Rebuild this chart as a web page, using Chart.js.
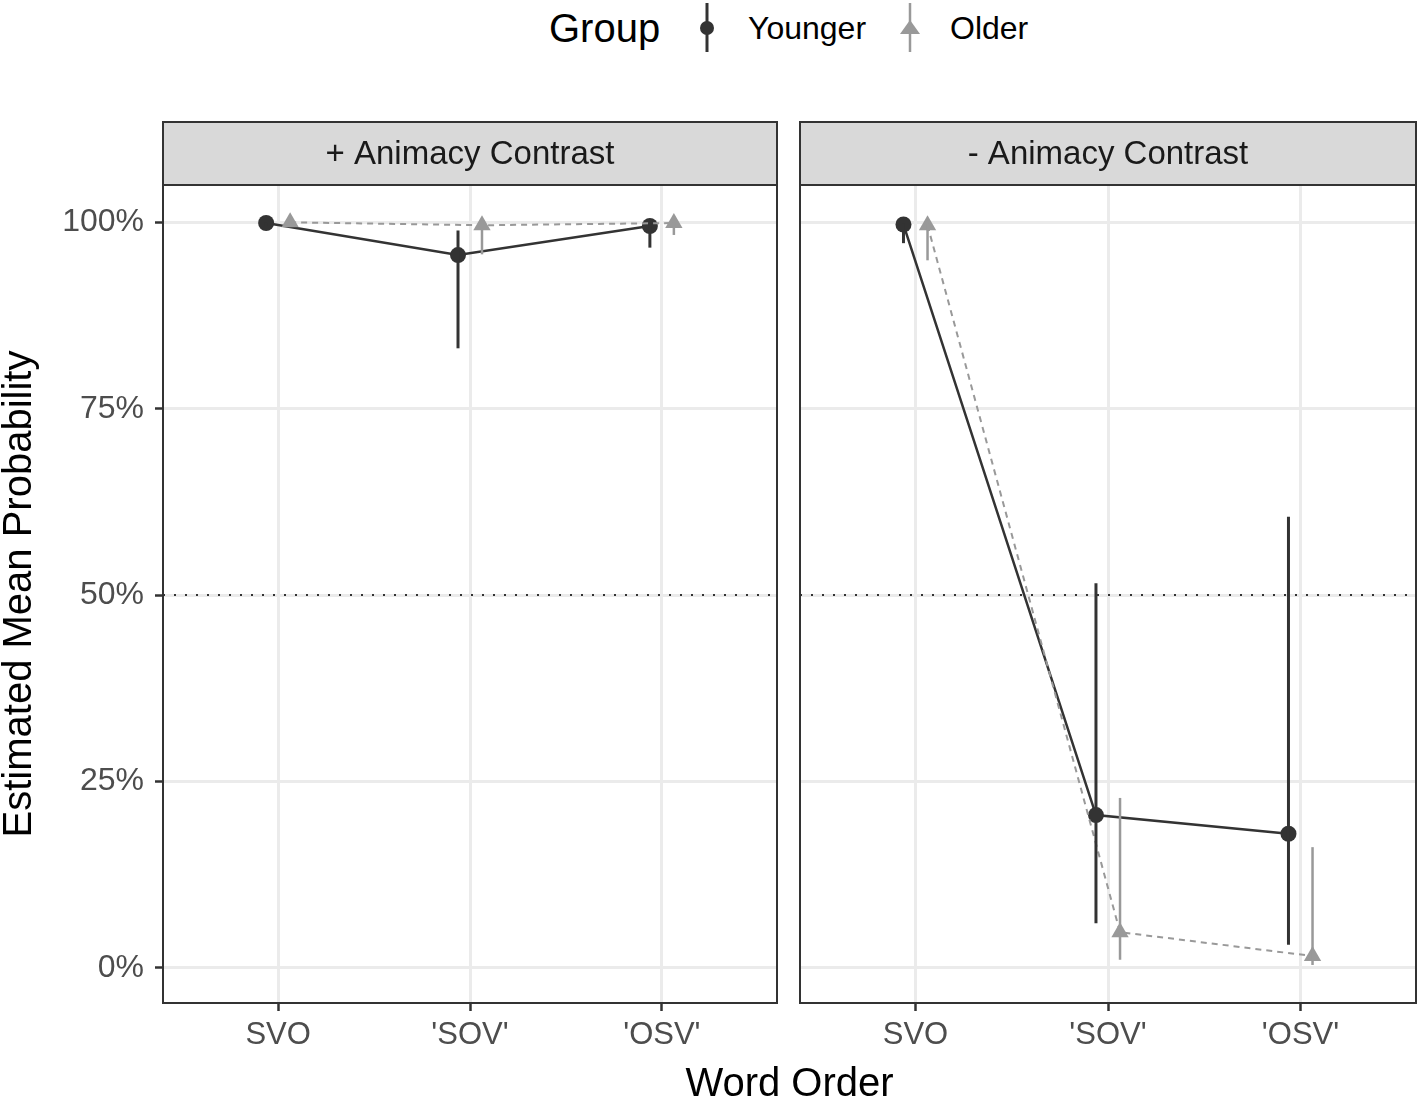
<!DOCTYPE html>
<html>
<head>
<meta charset="utf-8">
<script src="https://cdn.jsdelivr.net/npm/chart.js@4.4.0/dist/chart.umd.min.js"></script>
<style>
  html, body { margin: 0; padding: 0; background: #fff; }
  body { width: 1418px; height: 1099px; position: relative; overflow: hidden;
         font-family: 'Liberation Sans', Arial, Helvetica, sans-serif; }
  canvas.panel { position: absolute; left: 0; top: 0; }
  .lg { position: absolute; top: 0; height: 56px; line-height: 56px; color: #000; white-space: nowrap; }
  .lg-title { left: 549px; font-size: 40px; }
  .lg-text { font-size: 32px; }
  .lg-key { position: absolute; top: 0; }
  #xTitle { position: absolute; left: 163px; width: 1253px; top: 1058px; height: 48px; line-height: 48px;
            text-align: center; font-size: 40px; color: #000; }
</style>
</head>
<body>
<div class="lg lg-title">Group</div>
<svg class="lg-key" style="left:692px" width="30" height="56">
  <line x1="15" y1="3" x2="15" y2="52" stroke="#333333" stroke-width="3"/>
  <circle cx="15" cy="28" r="7" fill="#333333"/>
</svg>
<div class="lg lg-text" style="left:748px">Younger</div>
<svg class="lg-key" style="left:895px" width="30" height="56">
  <line x1="15" y1="3" x2="15" y2="52" stroke="#999999" stroke-width="2.5"/>
  <polygon points="15,20 25,34 5,34" fill="#999999"/>
</svg>
<div class="lg lg-text" style="left:950px">Older</div>

<canvas id="plusPanel" class="panel" width="1418" height="1099"></canvas>
<canvas id="minusPanel" class="panel" width="1418" height="1099"></canvas>
<div id="xTitle">Word Order</div>

<script>
'use strict';

const WORD_ORDERS = ['SVO', "'SOV'", "'OSV'"];
const PANEL_TITLES = ['+ Animacy Contrast', '- Animacy Contrast'];
const Y_TICKS = [0, 25, 50, 75, 100];
const CHANCE_LEVEL = 50;

// + Animacy Contrast (estimated mean probability, %)
const PLUS_YOUNGER = [99.9, 95.6, 99.5];
const PLUS_YOUNGER_LOW = [99.5, 83.1, 96.6];
const PLUS_YOUNGER_HIGH = [100, 98.9, 99.9];
const PLUS_OLDER = [100, 99.6, 99.9];
const PLUS_OLDER_LOW = [99.8, 95.7, 98.3];
const PLUS_OLDER_HIGH = [100, 99.9, 100];

// - Animacy Contrast
const MINUS_YOUNGER = [99.7, 20.5, 18.0];
const MINUS_YOUNGER_LOW = [97.2, 6.0, 3.1];
const MINUS_YOUNGER_HIGH = [99.9, 51.6, 60.5];
const MINUS_OLDER = [99.6, 4.8, 1.6];
const MINUS_OLDER_LOW = [94.9, 1.1, 0.4];
const MINUS_OLDER_HIGH = [99.9, 22.8, 16.2];

const FONT = "'Liberation Sans', Arial, Helvetica, sans-serif";
const YOUNGER_COLOR = '#333333';
const OLDER_COLOR = '#999999';
const GRID_COLOR = '#ebebeb';
const DODGE = 0.0625;
const Y_MIN = -4.7;
const Y_MAX = 105;
const STRIP_HEIGHT = 63;

Chart.defaults.font.family = FONT;

function dodged(values, shift) {
  return values.map((v, i) => ({ x: i + shift, y: v }));
}

const panelDecor = {
  id: 'panelDecor',
  beforeDatasetsDraw(chart) {
    const { ctx, chartArea } = chart;
    const y = chart.scales.y.getPixelForValue(CHANCE_LEVEL);
    ctx.save();
    ctx.strokeStyle = '#333333';
    ctx.lineWidth = 2;
    ctx.setLineDash([2, 9]);
    ctx.beginPath();
    ctx.moveTo(chartArea.left, y);
    ctx.lineTo(chartArea.right, y);
    ctx.stroke();
    ctx.restore();
  },
  afterDatasetsDraw(chart) {
    const { ctx } = chart;
    const yScale = chart.scales.y;
    ctx.save();
    chart.data.datasets.forEach((ds, i) => {
      const meta = chart.getDatasetMeta(i);
      ctx.strokeStyle = ds.borderColor;
      ctx.lineWidth = ds.errWidth;
      meta.data.forEach((pt, j) => {
        ctx.beginPath();
        ctx.moveTo(pt.x, yScale.getPixelForValue(ds.errLow[j]));
        ctx.lineTo(pt.x, yScale.getPixelForValue(ds.errHigh[j]));
        ctx.stroke();
      });
    });
    ctx.restore();
  },
  afterDraw(chart, args, opts) {
    const { ctx, chartArea } = chart;
    const { left, right, top, bottom } = chartArea;
    ctx.save();
    ctx.strokeStyle = '#333333';
    ctx.lineWidth = 2;
    ctx.strokeRect(left, top, right - left, bottom - top);
    ctx.fillStyle = '#d9d9d9';
    ctx.fillRect(left, top - STRIP_HEIGHT, right - left, STRIP_HEIGHT);
    ctx.strokeRect(left, top - STRIP_HEIGHT, right - left, STRIP_HEIGHT);
    ctx.fillStyle = '#1a1a1a';
    ctx.font = '33px ' + FONT;
    ctx.textAlign = 'center';
    ctx.textBaseline = 'middle';
    ctx.fillText(opts.title, (left + right) / 2, top - STRIP_HEIGHT / 2 + 1);
    ctx.restore();
  },
};

function makePanel(canvasId, title, younger, older, showYAxis, padLeft, padRight) {
  return new Chart(document.getElementById(canvasId), {
    type: 'line',
    data: {
      datasets: [
        {
          label: 'Younger',
          data: dodged(younger.values, -DODGE),
          errLow: younger.low,
          errHigh: younger.high,
          errWidth: 3,
          borderColor: YOUNGER_COLOR,
          backgroundColor: YOUNGER_COLOR,
          borderWidth: 2.5,
          pointStyle: 'circle',
          pointRadius: 8,
          pointBorderWidth: 0,
          order: 1,
        },
        {
          label: 'Older',
          data: dodged(older.values, DODGE),
          errLow: older.low,
          errHigh: older.high,
          errWidth: 2.5,
          borderColor: OLDER_COLOR,
          backgroundColor: OLDER_COLOR,
          borderWidth: 2,
          borderDash: [6, 5],
          pointStyle: 'triangle',
          pointRadius: 10,
          pointBorderWidth: 0,
          order: 0,
        },
      ],
    },
    options: {
      responsive: false,
      animation: false,
      layout: { autoPadding: false, padding: { left: padLeft, right: padRight, top: 185, bottom: 36 } },
      plugins: {
        legend: { display: false },
        tooltip: { enabled: false },
        panelDecor: { title },
      },
      scales: {
        x: {
          type: 'linear',
          min: -0.6,
          max: 2.6,
          afterBuildTicks: s => { s.ticks = WORD_ORDERS.map((_, i) => ({ value: i })); },
          afterFit: s => { s.height = 60; },
          border: { display: false },
          grid: { color: GRID_COLOR, lineWidth: 3, tickColor: '#333333', tickLength: 8, tickWidth: 2.5 },
          ticks: {
            callback: v => WORD_ORDERS[v],
            font: { size: 31, lineHeight: 1 },
            color: '#4d4d4d',
            padding: 9,
            maxRotation: 0,
          },
        },
        y: {
          min: Y_MIN,
          max: Y_MAX,
          afterBuildTicks: s => { s.ticks = Y_TICKS.map(v => ({ value: v })); },
          afterFit: s => { s.width = showYAxis ? 163 : 0; },
          border: { display: false },
          grid: {
            color: GRID_COLOR, lineWidth: 3, drawTicks: showYAxis,
            tickColor: '#333333', tickLength: 8, tickWidth: 2.5,
          },
          ticks: {
            display: showYAxis,
            callback: v => v + '%',
            font: { size: 32, lineHeight: 1 },
            color: '#4d4d4d',
            padding: 11,
          },
          title: {
            display: showYAxis,
            text: 'Estimated Mean Probability',
            font: { size: 40, lineHeight: 1 },
            color: '#000000',
            padding: 0,
          },
        },
      },
    },
    plugins: [panelDecor],
  });
}

makePanel('plusPanel', PANEL_TITLES[0],
  { values: PLUS_YOUNGER, low: PLUS_YOUNGER_LOW, high: PLUS_YOUNGER_HIGH },
  { values: PLUS_OLDER, low: PLUS_OLDER_LOW, high: PLUS_OLDER_HIGH },
  true, 0, 641);

makePanel('minusPanel', PANEL_TITLES[1],
  { values: MINUS_YOUNGER, low: MINUS_YOUNGER_LOW, high: MINUS_YOUNGER_HIGH },
  { values: MINUS_OLDER, low: MINUS_OLDER_LOW, high: MINUS_OLDER_HIGH },
  false, 800, 2);
</script>
</body>
</html>
